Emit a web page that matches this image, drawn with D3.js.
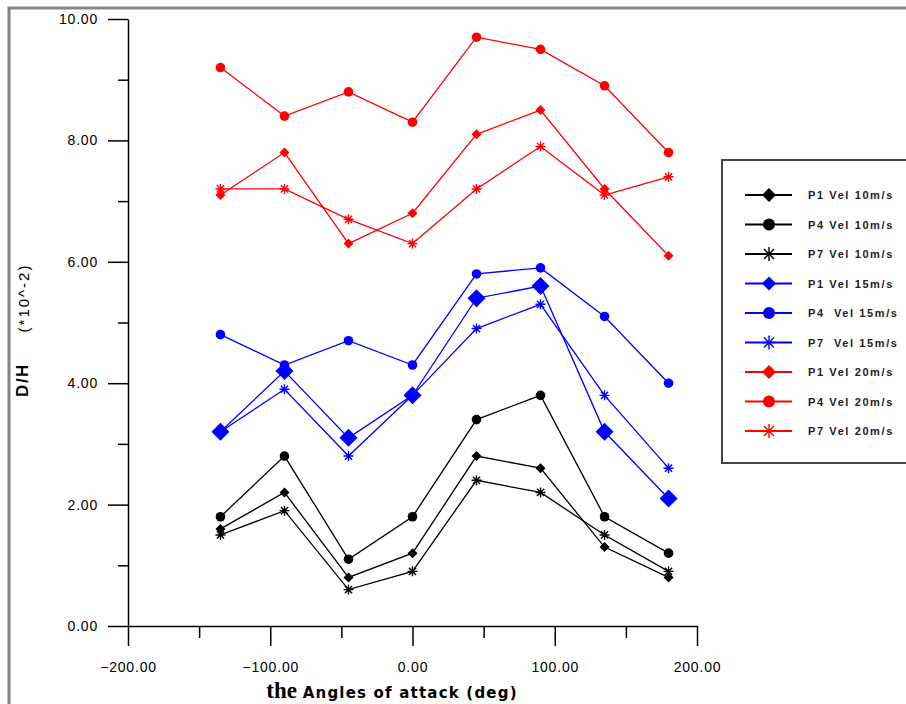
<!DOCTYPE html>
<html lang="en">
<head>
<meta charset="utf-8">
<script src="https://d3js.org/d3.v7.min.js"></script>
<style>
  body { margin: 0; background: #fff; overflow: hidden; }
  svg { display: block; }
</style>
</head>
<body>
<script>
// angles of attack (deg)
const angles = [-135, -90, -45, 0, 45, 90, 135, 180];

// D/H values (*10^-2)
const p1v10 = [1.6, 2.2, 0.8, 1.2, 2.8, 2.6, 1.3, 0.8];
const p4v10 = [1.8, 2.8, 1.1, 1.8, 3.4, 3.8, 1.8, 1.2];
const p7v10 = [1.5, 1.9, 0.6, 0.9, 2.4, 2.2, 1.5, 0.9];
const p1v15 = [3.2, 4.2, 3.1, 3.8, 5.4, 5.6, 3.2, 2.1];
const p4v15 = [4.8, 4.3, 4.7, 4.3, 5.8, 5.9, 5.1, 4.0];
const p7v15 = [3.2, 3.9, 2.8, 3.8, 4.9, 5.3, 3.8, 2.6];
const p1v20 = [7.1, 7.8, 6.3, 6.8, 8.1, 8.5, 7.2, 6.1];
const p4v20 = [9.2, 8.4, 8.8, 8.3, 9.7, 9.5, 8.9, 7.8];
const p7v20 = [7.2, 7.2, 6.7, 6.3, 7.2, 7.9, 7.1, 7.4];

const seriesNames = ["P1 Vel 10m/s", "P4 Vel 10m/s", "P7 Vel 10m/s",
                     "P1 Vel 15m/s", "P4  Vel 15m/s", "P7  Vel 15m/s",
                     "P1 Vel 20m/s", "P4 Vel 20m/s", "P7 Vel 20m/s"];

const xTicks = [-200, -100, 0, 100, 200];
const yTicks = [0, 2, 4, 6, 8, 10];

// series table for drawing
const series = [
  {name: seriesNames[0], values: p1v10, color: "#000000", shape: "diamond", size: 5},
  {name: seriesNames[1], values: p4v10, color: "#000000", shape: "circle", size: 4.8},
  {name: seriesNames[2], values: p7v10, color: "#000000", shape: "star", size: 5},
  {name: seriesNames[3], values: p1v15, color: "#0000ff", shape: "diamond", size: 9},
  {name: seriesNames[4], values: p4v15, color: "#0000ff", shape: "circle", size: 4.8},
  {name: seriesNames[5], values: p7v15, color: "#0000ff", shape: "star", size: 5},
  {name: seriesNames[6], values: p1v20, color: "#ff0000", shape: "diamond", size: 5},
  {name: seriesNames[7], values: p4v20, color: "#ff0000", shape: "circle", size: 4.8},
  {name: seriesNames[8], values: p7v20, color: "#ff0000", shape: "star", size: 5}
];

const W = 906, H = 704;
const svg = d3.select("body").append("svg")
  .attr("width", W).attr("height", H);

// grey frame round the figure (only top and left show)
svg.append("path")
  .attr("d", `M9,${H}V8H${W}`)
  .attr("fill", "none").attr("stroke", "#858585").attr("stroke-width", 3);

const x = d3.scaleLinear().domain([-200, 200]).range([128, 697]);
const y = d3.scaleLinear().domain([0, 10]).range([626, 19]);

const tickFont = "'Liberation Sans', Arial, sans-serif";

// minor ticks
svg.append("g")
  .attr("transform", "translate(0,626)")
  .call(d3.axisBottom(x).tickValues([-150, -50, 50, 150]).tickSize(12).tickFormat(""))
  .call(g => g.select(".domain").remove());
svg.append("g")
  .attr("transform", "translate(128,0)")
  .call(d3.axisLeft(y).tickValues([1, 3, 5, 7, 9]).tickSize(10).tickFormat(""))
  .call(g => g.select(".domain").remove());

// major axes
const xAxis = svg.append("g")
  .attr("transform", "translate(0,626)")
  .call(d3.axisBottom(x).tickValues(xTicks).tickSize(20).tickSizeOuter(0)
    .tickPadding(16).tickFormat(d3.format(".2f")));
const yAxis = svg.append("g")
  .attr("transform", "translate(128,0)")
  .call(d3.axisLeft(y).tickValues(yTicks).tickSize(20).tickSizeOuter(0)
    .tickPadding(10).tickFormat(d3.format(".2f")));

svg.selectAll(".tick line, .domain").attr("stroke", "#000").attr("stroke-width", 1.5);
[xAxis, yAxis].forEach(g => g.selectAll("text")
  .attr("fill", "#000")
  .style("font-family", tickFont)
  .style("font-size", "14px")
  .style("letter-spacing", "0.8px"));

// axis titles
const xt = svg.append("text")
  .attr("x", 392).attr("y", 698)
  .attr("text-anchor", "middle")
  .attr("fill", "#000");
xt.append("tspan")
  .style("font-family", "'Liberation Serif', 'Times New Roman', serif")
  .style("font-weight", "bold").style("font-size", "23px")
  .text("the ");
xt.append("tspan")
  .style("font-family", "'DejaVu Sans', Verdana, sans-serif")
  .style("font-weight", "bold").style("font-size", "15px")
  .style("letter-spacing", "1.2px")
  .text("Angles of attack (deg)");

svg.append("text")
  .attr("transform", "translate(28,380) rotate(-90)")
  .attr("text-anchor", "middle")
  .style("font-family", tickFont).style("font-weight", "bold")
  .style("font-size", "17px").style("letter-spacing", "1.5px")
  .attr("fill", "#000")
  .text("D/H");
svg.append("text")
  .attr("transform", "translate(29,298) rotate(-90)")
  .attr("text-anchor", "middle")
  .style("font-family", tickFont)
  .style("font-size", "15px").style("letter-spacing", "2px")
  .attr("fill", "#000")
  .text("(*10^-2)");

// marker drawing
function drawMarker(g, shape, r, color) {
  if (shape === "diamond") {
    g.append("path")
      .attr("d", `M0,${-r}L${r},0L0,${r}L${-r},0Z`)
      .attr("fill", color);
  } else if (shape === "circle") {
    g.append("circle").attr("r", r).attr("fill", color);
  } else {
    const d = r * 0.72;
    g.append("path")
      .attr("d", `M0,${-r}V${r}M${-r},0H${r}M${-d},${-d}L${d},${d}M${-d},${d}L${d},${-d}`)
      .attr("stroke", color).attr("stroke-width", 1.4).attr("fill", "none");
  }
}

const line = d3.line()
  .x((d, i) => x(angles[i]))
  .y(d => y(d));

const plot = svg.append("g");
series.forEach(s => {
  plot.append("path")
    .attr("d", line(s.values))
    .attr("fill", "none")
    .attr("stroke", s.color)
    .attr("stroke-width", 1.3);
  s.values.forEach((v, i) => {
    const m = plot.append("g").attr("transform", `translate(${x(angles[i])},${y(v)})`);
    drawMarker(m, s.shape, s.size, s.color);
  });
});

// legend box: its right side is cut off by the picture edge
svg.append("path")
  .attr("d", `M${W},160H722V463H${W}`)
  .attr("fill", "#fff").attr("stroke", "#444").attr("stroke-width", 2);

const legendSize = {diamond: 7, circle: 6, star: 7};
series.forEach((s, i) => {
  const ly = 195 + i * 29.5;
  const g = svg.append("g").attr("transform", `translate(0,${ly})`);
  g.append("line")
    .attr("x1", 745).attr("x2", 792)
    .attr("stroke", s.color).attr("stroke-width", 2);
  const m = g.append("g").attr("transform", "translate(769,0)");
  drawMarker(m, s.shape, legendSize[s.shape], s.color);
  g.append("text")
    .attr("x", 808).attr("y", 4)
    .style("font-family", tickFont).style("font-weight", "bold")
    .style("font-size", "11px").style("letter-spacing", "1.6px")
    .style("white-space", "pre")
    .attr("fill", "#222")
    .text(s.name);
});
</script>
</body>
</html>
